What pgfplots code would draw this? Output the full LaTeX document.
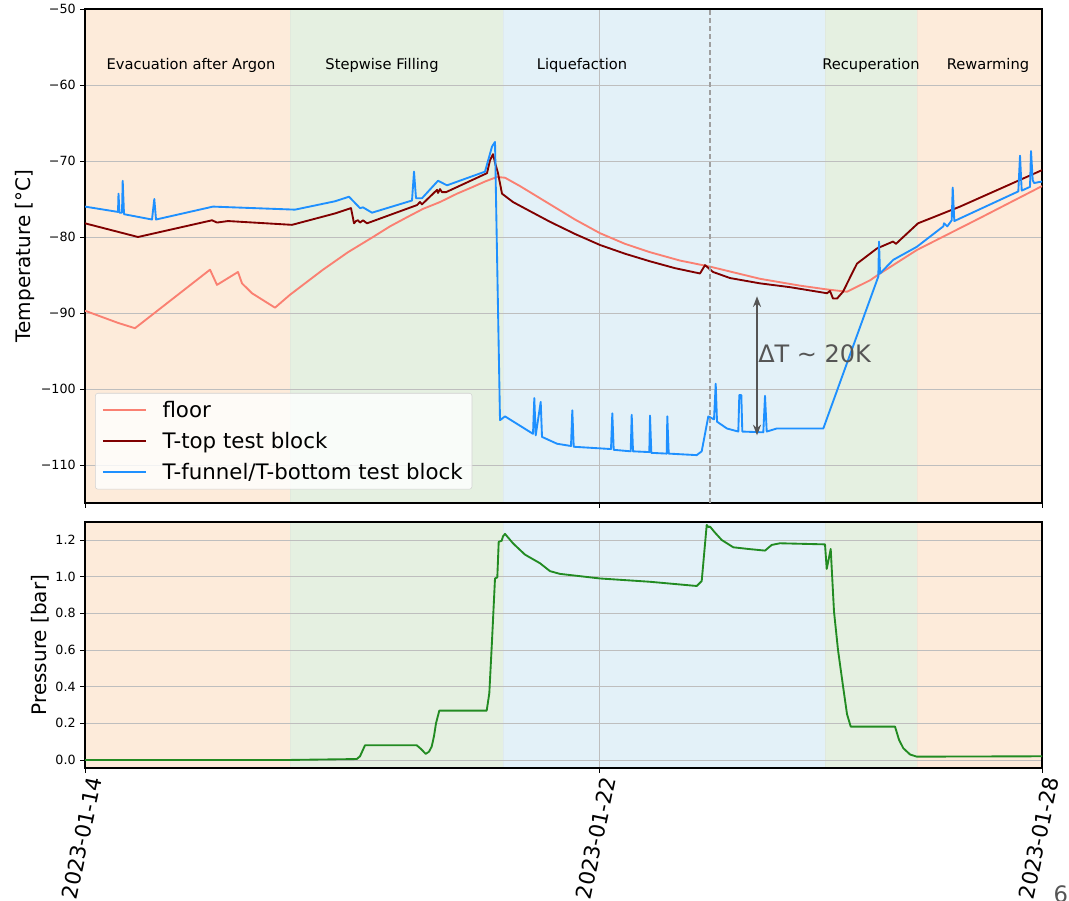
\documentclass[border=0pt]{standalone}
\usepackage{fontspec}
\setmainfont{DejaVu Sans}
\usepackage{pgfplots}
\pgfplotsset{compat=1.18}
\usetikzlibrary{arrows.meta}
\definecolor{bandO}{RGB}{253,235,218}
\definecolor{bandG}{RGB}{229,240,225}
\definecolor{bandB}{RGB}{227,241,248}
\definecolor{gridc}{RGB}{190,190,190}
\definecolor{floorc}{RGB}{250,128,114}
\definecolor{topc}{RGB}{128,0,0}
\definecolor{bluec}{RGB}{30,144,255}
\definecolor{greenc}{RGB}{34,139,34}
\definecolor{arrowc}{RGB}{85,85,85}
\newcommand{\bands}[2]{%
\begin{pgfonlayer}{axis background}
\fill[bandO] (axis cs:0,#1) rectangle (axis cs:205,#2);
\fill[bandG] (axis cs:205,#1) rectangle (axis cs:418,#2);
\fill[bandB] (axis cs:418,#1) rectangle (axis cs:740,#2);
\fill[bandG] (axis cs:740,#1) rectangle (axis cs:832,#2);
\fill[bandO] (axis cs:832,#1) rectangle (axis cs:957,#2);
\draw[bandG!85!black!60, line width=0.5pt, opacity=0.4] (axis cs:205,#1) -- (axis cs:205,#2) (axis cs:740,#1) -- (axis cs:740,#2);
\draw[bandB!85!black!60, line width=0.5pt, opacity=0.4] (axis cs:418,#1) -- (axis cs:418,#2);
\draw[bandO!85!black!60, line width=0.5pt, opacity=0.4] (axis cs:832,#1) -- (axis cs:832,#2);
\end{pgfonlayer}}
\pgfplotsset{myaxis/.style={
  scale only axis, width=717.75pt, xmin=0, xmax=957, xtick={0,514,957},
  set layers, grid=major, grid style={line width=0.6pt, color=gridc},
  tick align=outside, xtick pos=lower, ytick pos=left, major tick length=3.5pt,
  tick style={line width=0.6pt, black}, axis line style={line width=0.8pt},
  tick label style={font=\fontsize{9.5}{11}\selectfont},
  every axis plot/.append style={line width=1.4pt, line join=round},
}}
\begin{document}
\begin{tikzpicture}
\node[rotate=90, font=\fontsize{15}{18}\selectfont] at (18.75pt,-192pt) {Temperature [°C]};
\node[rotate=90, font=\fontsize{15}{18}\selectfont] at (30pt,-483.75pt) {Pressure [bar]};
\node[anchor=north west, text=arrowc, font=\fontsize{17}{20}\selectfont, inner sep=0pt] at (790pt,-664pt) {6};
\begin{axis}[myaxis, at={(63.75pt,-6.75pt)}, anchor=north west, height=370.5pt,
  ymin=-115, ymax=-50, ytick={-110,-100,-90,-80,-70,-60,-50},
  yticklabels={−110,−100,−90,−80,−70,−60,−50}, xticklabels={,,},
  legend style={at={(rel axis cs:0.0105,0.2227)}, anchor=north west,
    draw={rgb,255:red,210;green,210;blue,210}, rounded corners=2pt, fill=white,
    fill opacity=0.8, text opacity=1, font=\fontsize{16}{19}\selectfont,
    row sep=5.5pt, column sep=10pt, inner xsep=5pt, inner ysep=4pt, cells={anchor=west}},
  legend image code/.code={\draw[#1, line width=1.4pt] (0pt,0pt) -- (32pt,0pt);},
]
\bands{-115}{-50}
\addplot[floorc] coordinates {(0,-89.7)(33,-91.3)(50,-92.0)(125,-84.3)(132,-86.3)(153,-84.6)(157,-86.1)(167,-87.4)(190,-89.3)(205,-87.6)(222,-85.9)(238,-84.3)(263,-82.0)(288,-80.0)(305,-78.6)(322,-77.4)(338,-76.3)(355,-75.4)(372,-74.3)(388,-73.4)(400,-72.7)(412,-72.1)(420,-72.2)(435,-73.3)(465,-75.7)(490,-77.7)(515,-79.5)(540,-80.9)(565,-82.0)(595,-83.1)(625,-83.9)(675,-85.5)(715,-86.4)(742,-86.9)(762,-87.2)(785,-85.7)(795,-84.8)(832,-81.7)(895,-77.5)(957,-73.3)};
\addlegendentry{floor}
\addplot[topc] coordinates {(0,-78.2)(53,-80.0)(127,-77.8)(132,-78.1)(143,-77.9)(207,-78.4)(250,-76.9)(266,-76.2)(269,-78.2)(271,-77.9)(273,-77.8)(275,-78.1)(278,-77.8)(282,-78.2)(332,-75.8)(335,-75.4)(337,-75.7)(352,-73.8)(353,-74.2)(355,-73.7)(357,-74.1)(361,-74.1)(402,-71.6)(405,-69.9)(408,-69.1)(410,-70.2)(413,-71.6)(417,-74.3)(428,-75.4)(445,-76.6)(465,-78.0)(490,-79.6)(515,-81.05)(540,-82.2)(565,-83.2)(590,-84.1)(615,-84.8)(620,-83.7)(628,-84.6)(645,-85.4)(675,-86.1)(705,-86.6)(742,-87.4)(745,-87.1)(748,-88.1)(752,-88.1)(758,-87.2)(767,-84.8)(772,-83.5)(792,-81.5)(808,-80.6)(811,-80.9)(815,-80.4)(833,-78.2)(875,-76.0)(957,-71.2)};
\addlegendentry{T-top test block}
\addplot[bluec] coordinates {(0,-76.0)(33,-76.7)(33.5,-74.3)(34.5,-76.8)(37,-76.8)(37.7,-72.6)(39,-77.0)(67,-77.7)(69.3,-75.0)(71,-77.7)(128,-76.0)(210,-76.4)(250,-75.3)(264,-74.7)(275,-76.2)(278,-76.1)(287,-76.8)(327,-75.2)(329,-71.4)(331,-74.9)(337,-74.9)(353,-72.6)(362,-73.2)(400,-71.4)(407,-68.1)(410,-67.5)(415,-104.1)(420,-103.6)(448,-105.9)(449.3,-101.2)(450.7,-106.1)(455.7,-101.7)(457,-106.3)(472,-107.2)(486,-107.5)(487.3,-102.8)(488.7,-107.6)(526,-107.9)(527.3,-103.2)(528.7,-108.0)(545.7,-108.2)(546.7,-103.4)(548,-108.2)(564.3,-108.3)(565,-103.5)(566.3,-108.4)(581.7,-108.5)(582.3,-103.6)(583.7,-108.5)(611.7,-108.7)(616.7,-108.2)(623.3,-103.6)(629,-104.0)(630.7,-99.3)(632,-104.3)(642,-105.2)(653.3,-105.6)(654.3,-100.8)(656.3,-100.8)(657.3,-105.6)(678.3,-105.7)(680,-100.9)(681.7,-105.6)(691.7,-105.2)(738.3,-105.2)(793.3,-85.2)(794,-80.6)(795,-84.8)(808.3,-83.0)(831.7,-81.3)(858.3,-78.6)(859,-78.2)(862.3,-78.6)(866.7,-77.8)(867.7,-73.5)(869.3,-77.9)(933.3,-74.0)(935,-69.3)(936.7,-73.9)(945,-73.4)(946,-68.7)(947.7,-72.5)(949,-72.9)(957,-72.7)};
\addlegendentry{T-funnel/T-bottom test block}
\draw[gray!75, line width=1pt, dash pattern=on 4pt off 2pt] (axis cs:625,-115) -- (axis cs:625,-50);
\draw[{Stealth[length=8pt,width=6pt]}-{Stealth[length=8pt,width=6pt]}, line width=1.4pt, arrowc] (axis cs:672,-87.8) -- (axis cs:672,-106.1);
\node[anchor=west, inner sep=0pt, text=arrowc, font=\fontsize{18}{21}\selectfont] at (axis cs:673,-95.3) {ΔT \textasciitilde{} 20K};
\node[font=\fontsize{11}{13}\selectfont] at (axis cs:106,-57.4) {Evacuation after Argon};
\node[font=\fontsize{11}{13}\selectfont] at (axis cs:297,-57.4) {Stepwise Filling};
\node[font=\fontsize{11}{13}\selectfont] at (axis cs:497,-57.4) {Liquefaction};
\node[font=\fontsize{11}{13}\selectfont] at (axis cs:786,-57.4) {Recuperation};
\node[font=\fontsize{11}{13}\selectfont] at (axis cs:903,-57.4) {Rewarming};
\end{axis}
\begin{axis}[myaxis, at={(63.75pt,-391.5pt)}, anchor=north west, height=184.5pt,
  ymin=-0.044, ymax=1.298, ytick={0,0.2,0.4,0.6,0.8,1.0,1.2},
  yticklabels={0.0,0.2,0.4,0.6,0.8,1.0,1.2},
  xticklabels={2023-01-14,2023-01-22,2023-01-28},
  xticklabel style={xshift=8pt, rotate=78, anchor=east, font=\fontsize{16}{19}\selectfont},
]
\bands{-0.044}{1.298}
\addplot[greenc] coordinates {(0,0.0)(205,0.0)(271.7,0.005)(275,0.02)(280,0.08)(331.7,0.08)(336,0.06)(340.7,0.033)(344,0.045)(346.7,0.073)(349,0.13)(351,0.2)(354.3,0.269)(401.7,0.269)(404.3,0.364)(407,0.65)(410,0.99)(412.3,0.996)(413.7,1.19)(416.7,1.196)(418,1.22)(420,1.233)(428.3,1.18)(440,1.12)(455,1.073)(465,1.03)(475,1.015)(515,0.99)(565,0.972)(611.7,0.949)(616.7,0.976)(621.7,1.282)(623.5,1.27)(625,1.273)(630,1.24)(636.7,1.2)(648.3,1.16)(665,1.15)(680,1.142)(686.7,1.173)(695,1.182)(740,1.176)(741.7,1.042)(745.7,1.151)(749,0.809)(753,0.6)(758.3,0.391)(762,0.25)(765.7,0.182)(810,0.182)(814,0.11)(818.3,0.064)(825,0.03)(831.7,0.018)(957,0.02)};
\end{axis}
\pgfresetboundingbox
\path[use as bounding box] (0pt,0pt) rectangle (801.75pt,-675pt);
\end{tikzpicture}
\end{document}
